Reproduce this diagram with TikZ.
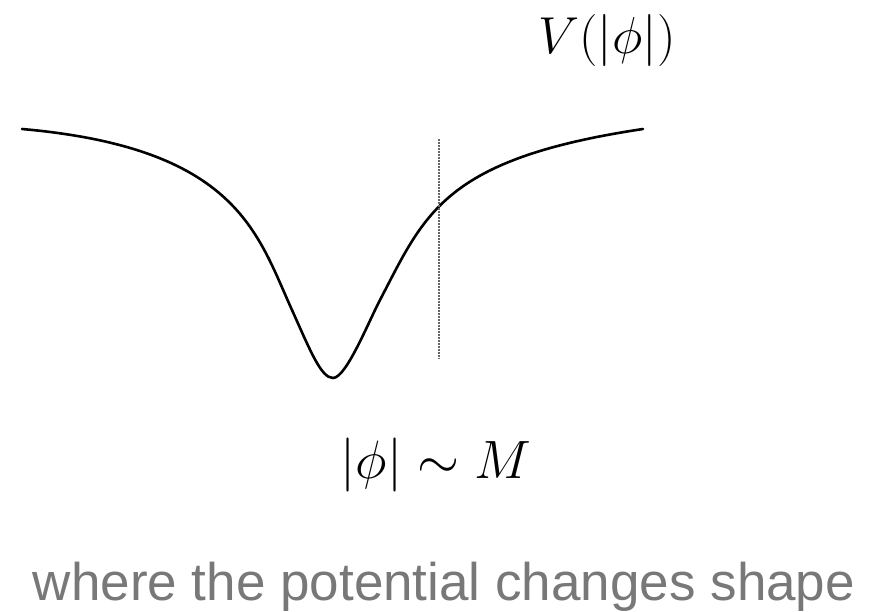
\RequirePackage{fix-cm}
\documentclass[tikz,border=0pt]{standalone}
\usepackage{fontspec}
\newfontfamily\captionfont{Liberation Sans}
\definecolor{potcurve}{rgb}{0,0,0}
\definecolor{potmark}{rgb}{0.4,0.4,0.4}
\definecolor{potcaption}{rgb}{0.47,0.47,0.47}

\begin{document}
\begin{tikzpicture}[x=1pt,y=-1pt]
\useasboundingbox (0,0) rectangle (884,611);
% the well
\draw[potcurve,line width=2.6pt,line cap=round]
  (22,129) .. controls (237,148) and (257,233) .. (292,310)
  .. controls (310,350) and (321,378) .. (333,378)
  .. controls (346,378) and (368,323) .. (380,300)
  .. controls (425,214) and (443,159) .. (643,129);
\coordinate (dtop) at (439,139);
\coordinate (dbot) at (439,359);
\draw[potmark,line width=1.5pt,dash pattern=on 1.5pt off 1.5pt] (dtop) -- (dbot);
\node[font=\fontsize{52}{60}\selectfont,anchor=base] (potlabel) at (607,53) {$V(|\phi|)$};
\node[font=\fontsize{54}{62}\selectfont,anchor=base] (scalelabel) at (436,478) {$|\phi|\sim M$};
\node[font=\captionfont\fontsize{53}{60}\selectfont,text=potcaption,anchor=base] (caption) at (444,600) {where the potential changes shape};
\end{tikzpicture}
\end{document}
